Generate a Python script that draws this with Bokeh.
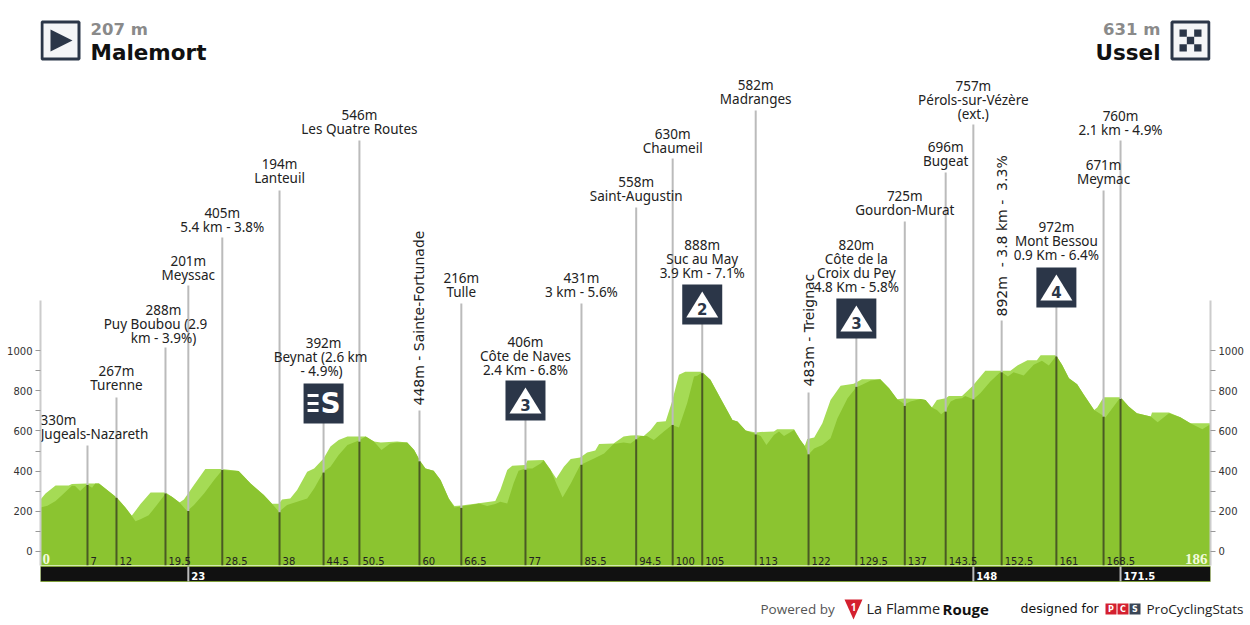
from math import pi
from bokeh.plotting import figure
from bokeh.layouts import column, row
from bokeh.models import FixedTicker, LinearAxis
from bokeh.core.properties import value
from bokeh.embed import file_html
from bokeh.resources import INLINE

# ---- data -----------------------------------------------------------------
light_km = [0,0.8,2.4,4.5,5.0,7.4,9.3,10.3,12.1,13.5,14.5,15.9,17.5,19.9,20.9,22.1,22.8,24.4,26.2,28.9,31.5,33.4,35.5,36.8,37.9,38.4,39.7,40.8,42.4,43.5,45.0,46.1,
            47.4,48.8,51.7,53.0,54.1,56.7,58.3,59.4,60.4,61.2,62.5,63.6,64.9,65.8,66.9,69.4,72.3,73.1,74.2,75.0,77.1,77.4,80.0,81.1,82.0,83.2,84.3,85.8,86.9,88.2,88.8,91.1,92.7,93.8,
            94.8,95.9,97,98.0,99.4,100.4,101.5,102.5,105.2,106.5,108.1,110,110.8,112.1,113.7,114.5,116.6,117.1,119.8,120.8,121.5,121.9,123,124.3,125.6,127.2,129.3,130.6,133.5,134.9,136.2,137.3,
            139.9,140.7,141.7,142.5,143.9,144.4,146.5,148.1,150.2,152.7,154.2,155.3,156.9,158.4,159,161.4,162.4,163.5,164.8,165.9,167.5,168,169.0,171.7,173,174.3,176.5,176.7,179.4,181.2,182.8,186]
light_m = [258,288,328,328,335,338,338,313,268,218,177,235,293,293,272,243,258,330,410,410,400,338,280,237,237,258,263,305,397,413,463,522,
           555,572,572,547,543,547,542,505,447,413,402,355,263,225,228,238,250,305,405,427,430,452,455,405,363,422,460,468,492,502,535,538,572,577,
           578,575,605,645,648,747,880,895,895,855,763,655,647,602,592,595,597,608,608,555,525,560,567,638,755,825,835,858,858,813,758,762,
           760,755,717,755,763,775,775,822,900,900,900,927,953,953,978,978,930,863,833,780,705,717,768,768,722,688,672,692,692,668,638,638]
dark_km = [0,1.1,2.4,3.7,5.0,5.5,6.3,7.4,8.2,8.7,9.3,10.3,12.1,13.5,14.5,15.1,15.9,17.2,18.5,19.9,20.9,22.1,23.3,24.4,26,27.6,28.9,31.5,33.4,35.5,36.8,37.9,39.2,40.8,42.4,43.5,45.0,46.1,
           47.4,48.8,50.6,51.7,53.0,54.2,55.6,56.7,58.3,59.4,60.4,61.2,62.5,63.6,64.9,65.8,68.4,69.7,71.0,72.3,73.1,74.2,75.2,76.0,77.1,78.2,79.5,80.0,81.1,82,83.0,84.3,85.8,88,89.6,91.1,92.7,93.8,
           95.4,96.4,97.5,99.1,100.4,101.5,102.8,103.9,104.4,105.2,106.5,108.1,110,110.8,112.1,113.7,114.5,115.4,116.6,117.4,118.2,119.8,120.8,121.5,122.1,123,124.3,125.6,126.7,128.3,129.7,130.6,132,133.5,134.9,136.2,137.4,138.3,
           139.9,140.7,141.7,142.5,143.2,143.9,144.7,145.5,146.5,147,148.3,149.4,151,152.7,153.8,154.7,156.3,157.9,159.2,160.3,161.5,162.4,163.5,164.8,165.9,167.5,168.9,169.3,171.7,173,174.3,176.5,177.6,179.4,181.2,182.8,184.7,186]
dark_m = [218,227,250,288,327,325,300,333,317,338,338,313,268,218,177,150,160,180,230,288,272,243,200,230,288,355,405,400,338,280,237,197,230,247,263,313,397,422,
          480,530,552,572,547,505,538,543,542,505,447,413,402,355,263,218,230,238,225,235,247,238,338,402,413,413,438,452,405,338,268,338,430,463,488,535,542,538,
          575,575,555,597,630,617,738,872,875,892,855,763,655,647,602,585,575,530,580,597,575,605,555,525,483,513,530,563,663,763,818,830,852,858,813,758,733,747,
          760,755,717,705,683,702,747,760,763,775,758,788,847,897,872,893,877,930,950,927,975,930,863,833,780,705,677,667,768,722,688,672,643,688,668,638,608,633]

marker_km = [7.47,12.08,19.87,23.5,28.9,38.0,45.0,50.7,60.25,66.9,77.1,86.0,94.7,100.5,105.2,113.7,122.1,129.7,137.4,143.9,148.3,152.8,161.5,169.0,171.7]
marker_m = [330,267,288,201,405,194,392,546,448,216,406,431,558,630,888,582,483,820,725,696,757,892,972,671,760]
km_labels = ["7","12","19.5","23","28.5","38","44.5","50.5","60","66.5","77","85.5","94.5","100","105","113","122","129.5","137","143.5","148","152.5","161","168.5","171.5"]
marker_text = [["330m","Jugeals-Nazareth"],["267m","Turenne"],["288m","Puy Boubou (2.9","km - 3.9%)"],["201m","Meyssac"],["405m","5.4 km - 3.8%"],
    ["194m","Lanteuil"],["392m","Beynat (2.6 km","- 4.9%)"],["546m","Les Quatre Routes"],["448m - Sainte-Fortunade"],["216m","Tulle"],
    ["406m","Côte de Naves","2.4 Km - 6.8%"],["431m","3 km - 5.6%"],["558m","Saint-Augustin"],["630m","Chaumeil"],["888m","Suc au May","3.9 Km - 7.1%"],
    ["582m","Madranges"],["483m - Treignac"],["820m","Côte de la","Croix du Pey","4.8 Km - 5.8%"],["725m","Gourdon-Murat"],["696m","Bugeat"],
    ["757m","Pérols-sur-Vézère","(ext.)"],["892m\u00a0 - 3.8 km -\u00a0 3.3%"],["972m","Mont Bessou","0.9 Km - 6.4%"],["671m","Meymac"],["760m","2.1 km - 4.9%"]]
y_ticks = [0,200,400,600,800,1000]
y_minor = [100,300,500,700,900]
start_name, start_alt = "Malemort", "207 m"
end_name, end_alt = "Ussel", "631 m"
climb_cats = ["3","2","3","4"]

# ---- layout ----------------------------------------------------------------
W, H = 1250, 625
FOOT = 35
KM = 6.2903
PY0, PPM = 550.7, 0.2004
def X(px): return (px - 40) / KM
def Y(py): return (PY0 - py) / PPM
FONT = "DejaVu Sans"
LABEL_FONT = "Noto Sans"
stem_top = [445,397,347,285,237,190,400,140,410,303,400,303,207,158,300,110,392,315,221,172,124,320,285,190,140]
first_line = [419,370,309,260,212,163,342,114,405,277,341,277,181,133,244,84,386,244,195,146,85,316,226,164,115]
line_dx = {0:[-29,7], 2:[-2,-10,-2], 6:[0,-3,-2]}   # px offsets of individual label lines
LINE = 14.0
BASE = Y(564.7)
BAR_TOP, BAR_BOT = Y(566), Y(581)

p = figure(width=W, height=H-FOOT, x_range=(X(40), X(1210)), y_range=(Y(H-FOOT), Y(0)),
           toolbar_location=None, output_backend="svg", x_axis_location=None, y_axis_location=None,
           min_border_left=40, min_border_right=40, min_border_top=0, min_border_bottom=0,
           outline_line_color=None, background_fill_color="white", border_fill_color="white")
p.grid.visible = False

for side in ("left", "right"):
    ax = LinearAxis(ticker=FixedTicker(ticks=y_ticks, minor_ticks=y_minor), bounds=(Y(565), Y(300)))
    ax.axis_line_color = "#cccccc"; ax.axis_line_width = 2
    ax.major_tick_line_color = "#999999"; ax.minor_tick_line_color = "#999999"
    ax.major_tick_in = 0; ax.major_tick_out = 5; ax.minor_tick_in = 0; ax.minor_tick_out = 5
    ax.major_label_text_font = FONT; ax.major_label_text_font_size = "10px"
    ax.major_label_text_color = "#333333"; ax.major_label_standoff = 3
    p.add_layout(ax, side)

# profile
p.varea(x=light_km, y1=[BASE]*len(light_km), y2=light_m, fill_color="#a5db55")
p.varea(x=dark_km, y1=[BASE]*len(dark_km), y2=dark_m, fill_color="#8bc430")

# stems
p.segment(x0=marker_km, y0=marker_m, x1=marker_km, y1=[Y(t) for t in stem_top], line_color="#bbbbbb", line_width=2)
p.segment(x0=marker_km, y0=[BASE]*len(marker_km), x1=marker_km, y1=marker_m, line_color="#4a5a24", line_width=2)

# km band
p.quad(left=[0], right=[186], top=[BAR_TOP], bottom=[BAR_BOT], fill_color="#111111", line_color="#7f9f3a", line_width=1)
band = [i for i, l in enumerate(km_labels) if l in ("23", "148", "171.5")]
p.segment(x0=[marker_km[i] for i in band], y0=[BAR_TOP]*3, x1=[marker_km[i] for i in band], y1=[BAR_BOT]*3, line_color="#bbbbbb", line_width=2)
p.text(x=[marker_km[i]+X(43) for i in band], y=[Y(575)]*3, text=[km_labels[i] for i in band], text_color="white",
       text_font=value(FONT), text_font_size="10px", text_font_style="bold", text_baseline="middle")
up = [i for i in range(len(km_labels)) if i not in band]
p.text(x=[marker_km[i]+X(43) for i in up], y=[Y(560)]*len(up), text=[km_labels[i] for i in up], text_color="#222222",
       text_font=value(FONT), text_font_size="10px", text_baseline="middle")
p.text(x=[X(42)], y=[Y(558)], text=["0"], text_color="#f2fbdc", text_font=value("Liberation Serif"), text_font_size="15px", text_font_style="bold", text_baseline="middle")
p.text(x=[X(1207)], y=[Y(558)], text=["186"], text_color="#f2fbdc", text_font=value("Liberation Serif"), text_font_size="15px", text_font_style="bold", text_baseline="middle", text_align="right")

# marker labels
tx, ty, tt = [], [], []
rx, ry, rt = [], [], []
for i, lines in enumerate(marker_text):
    if len(lines) == 1:
        rx.append(marker_km[i]); ry.append(Y(first_line[i])); rt.append(lines[0])
        continue
    for j, s in enumerate(lines):
        dx = line_dx.get(i, [0]*len(lines))[j]
        tx.append(marker_km[i] + dx/KM); ty.append(Y(first_line[i] + j*LINE)); tt.append(s)
p.text(x=rx, y=ry, text=rt, angle=pi/2, text_color="#222222", text_font=value(FONT), text_font_size="14px",
       text_align="left", text_baseline="middle")
p.text(x=tx, y=ty, text=tt, text_color="#222222", text_font=value(LABEL_FONT), text_font_size="13.5px",
       text_align="center", text_baseline="middle")

# climb icons
ICON = "#2b3648"
def square(cx, top, size=40):
    p.quad(left=[X(cx-size/2)], right=[X(cx+size/2)], top=[Y(top)], bottom=[Y(top+size)], fill_color=ICON, line_color=None)
sprint_i = 6
climbs = [10, 14, 17, 22]
icon_top = [380, 284, 298, 267]
for i, t, c in zip(climbs, icon_top, climb_cats):
    cx = 40 + marker_km[i]*KM
    square(cx, t)
    p.patch(x=[X(cx), X(cx-16), X(cx+16)], y=[Y(t+7), Y(t+33), Y(t+33)], fill_color="white", line_color=None)
    p.text(x=[X(cx)], y=[Y(t+24)], text=[c], text_color=ICON, text_font=value(FONT), text_font_size="15px",
           text_font_style="bold", text_align="center", text_baseline="middle")
cx = 40 + marker_km[sprint_i]*KM
square(cx, 383)
for by in (395, 403, 410):
    p.quad(left=[X(cx-16)], right=[X(cx-5)], top=[Y(by-1.5)], bottom=[Y(by+1.5)], fill_color="white", line_color=None)
p.text(x=[X(cx+7)], y=[Y(403)], text=["S"], text_color="white", text_font=value(FONT), text_font_size="28px",
       text_font_style="bold", text_align="center", text_baseline="middle")

# header
p.quad(left=[X(41.5)], right=[X(78.5)], top=[Y(21.5)], bottom=[Y(58.5)], fill_color="#f4f5f7", line_color=ICON, line_width=3)
p.patch(x=[X(50), X(50), X(72)], y=[Y(29), Y(51), Y(40)], fill_color=ICON, line_color=None)
p.quad(left=[X(1171.5)], right=[X(1208.5)], top=[Y(21.5)], bottom=[Y(58.5)], fill_color="#f4f5f7", line_color=ICON, line_width=3)
cell = 22/3
cl, ct, cr, cb = [], [], [], []
for r in range(3):
    for c in range(3):
        if (r + c) % 2 == 0:
            cl.append(X(1179+c*cell)); cr.append(X(1179+(c+1)*cell)); ct.append(Y(29+r*cell)); cb.append(Y(29+(r+1)*cell))
p.quad(left=cl, right=cr, top=ct, bottom=cb, fill_color=ICON, line_color=None)

p.text(x=[X(90)], y=[Y(29)], text=[start_alt], text_color="#8a8a8a", text_font=value(FONT), text_font_size="16.5px", text_font_style="bold", text_baseline="middle")
p.text(x=[X(90)], y=[Y(52)], text=[start_name], text_color="#111111", text_font=value(FONT), text_font_size="21.5px", text_font_style="bold", text_baseline="middle")
p.text(x=[X(1160)], y=[Y(29)], text=[end_alt], text_color="#8a8a8a", text_font=value(FONT), text_font_size="16.5px", text_font_style="bold", text_baseline="middle", text_align="right")
p.text(x=[X(1160)], y=[Y(52)], text=[end_name], text_color="#111111", text_font=value(FONT), text_font_size="21.5px", text_font_style="bold", text_baseline="middle", text_align="right")

# footer strip: its own figure, so that the credit can reach past the chart's right edge
f = figure(width=W, height=FOOT, x_range=(0, W), y_range=(H, H-FOOT), toolbar_location=None, output_backend="svg",
           x_axis_location=None, y_axis_location=None, min_border=0, outline_line_color=None)
f.grid.visible = False
f.text(x=[760], y=[608], text=["Powered by"], text_color="#555555", text_font=value("Open Sans"), text_font_size="13.5px", text_baseline="middle")
f.patch(x=[844, 862, 853], y=[599, 599, 619], fill_color="#d4202f", line_color=None)
f.text(x=[853], y=[606], text=["1"], text_color="white", text_font=value("Open Sans"), text_font_size="10px", text_font_style="bold", text_align="center", text_baseline="middle")
f.text(x=[866], y=[608], text=["La Flamme"], text_color="#222222", text_font=value("Open Sans"), text_font_size="14.5px", text_baseline="middle")
f.text(x=[942], y=[608], text=["Rouge"], text_color="#111111", text_font=value("Open Sans"), text_font_size="15px", text_font_style="bold", text_baseline="middle")
f.text(x=[1020], y=[608], text=["designed for"], text_color="#111111", text_font=value("DejaVu Sans"), text_font_size="12.5px", text_baseline="middle")
for bx, col, s in ((1105, "#d4202f", "P"), (1117, "#d4202f", "C"), (1129, "#3a4656", "S")):
    f.quad(left=[bx], right=[bx+11], top=[603], bottom=[614], fill_color=col, line_color=None)
    f.text(x=[bx+5.5], y=[608.5], text=[s], text_color="white", text_font=value("DejaVu Sans"), text_font_size="8px", text_font_style="bold", text_align="center", text_baseline="middle")
f.text(x=[1146], y=[608], text=["ProCyclingStats"], text_color="#222222", text_font=value("Open Sans"), text_font_size="13.5px", text_baseline="middle")

open("out.html", "w").write(file_html(column(p, row(f, spacing=0), spacing=0), INLINE))
